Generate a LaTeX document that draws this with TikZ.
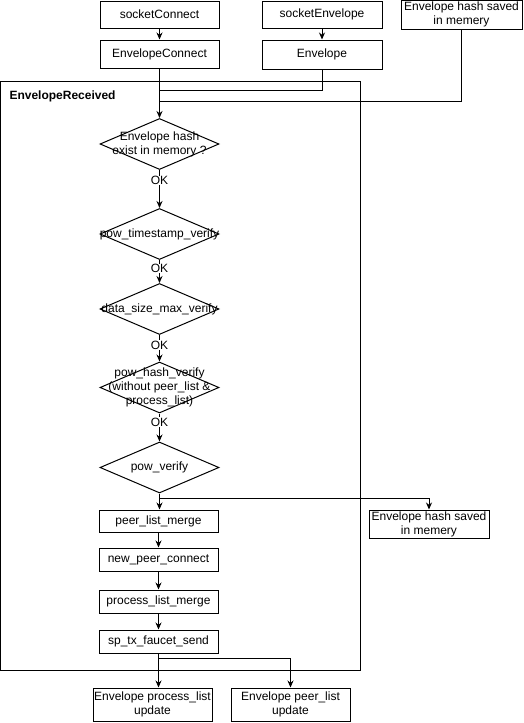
\documentclass[tikz,border=0pt]{standalone}
\usepackage{fontspec}
\setmainfont{Liberation Sans}
\usetikzlibrary{shapes.geometric,arrows.meta}

\begin{document}
\begin{tikzpicture}[x=1pt,y=-1pt,line width=1pt,
  txt/.style={font=\fontsize{12}{14}\selectfont},
  box/.style={txt,draw,minimum width=119,minimum height=28,inner sep=1pt,align=center},
  decision/.style={draw,diamond,minimum width=119,minimum height=51,inner sep=0pt},
  ok/.style={txt,fill=white,inner sep=0.5pt},
  arr/.style={-{Stealth[length=7pt,width=6pt]}}]
\useasboundingbox (0,0) rectangle (523,723);

% container
\node[draw,minimum width=360,minimum height=589,inner sep=0pt] (recv) at (180.5,375.5) {};
\node[txt,font=\fontsize{12}{14}\selectfont\bfseries,anchor=west,inner sep=0pt] (recvt) at (9,96) {EnvelopeReceived};

% top boxes
\node[box,minimum height=27] (sconn) at (159.5,14.5) {socketConnect};
\node[box,minimum width=120,minimum height=27] (senv) at (322,14.5) {socketEnvelope};
\node[box,minimum width=121,minimum height=29,inner sep=0pt] (hash1) at (461.5,14.5) {Envelope hash saved\\in memery};
\node[box] (econn) at (159.5,54) {EnvelopeConnect};
\node[box,minimum width=120,minimum height=29] (env) at (322,54.5) {Envelope};

% decisions
\node[decision,label={[txt,align=center]center:Envelope hash\\exist in memory ?}] (d1) at (159.5,144) {};
\node[decision,label={[txt]center:pow\_timestamp\_verify}] (d2) at (159.5,234) {};
\node[decision,label={[txt]center:data\_size\_max\_verify}] (d3) at (159.5,309) {};
\node[decision,label={[txt,align=center]center:pow\_hash\_verify\\(without peer\_list \&\\process\_list)}] (d4) at (159.5,387.5) {};
\node[decision,label={[txt]center:pow\_verify}] (d5) at (159.5,467.5) {};

% lower chain
\node[box,minimum height=22] (merge) at (158.5,521) {peer\_list\_merge};
\node[box,minimum height=23] (npc) at (158.5,559.5) {new\_peer\_connect};
\node[box,minimum height=23] (plm) at (158.5,601.5) {process\_list\_merge};
\node[box,minimum height=23] (send) at (158.5,641.5) {sp\_tx\_faucet\_send};
\node[box,minimum width=120,inner sep=0pt] (hash2) at (429,524) {Envelope hash saved\\in memery};
\node[box,minimum height=33,inner sep=0pt] (outa) at (152.5,704.5) {Envelope process\_list\\update};
\node[box,minimum height=33,inner sep=0pt] (outb) at (290.5,704.5) {Envelope peer\_list\\update};

% connectors
\coordinate (j1) at (159.5,90);
\coordinate (j2) at (159.5,101);
\draw[arr] (sconn) -- (econn);
\draw[arr] (senv) -- (env);
\draw[arr] (econn) -- (d1.north);
\draw (env.south) |- (j1);
\draw (hash1.south) |- (j2);

\draw[arr] (d1.south) -- node[ok,pos=0.27] {OK} (d2.north);
\draw[arr] (d2.south) -- node[ok,pos=0.38] {OK} (d3.north);
\draw[arr] (d3.south) -- node[ok,pos=0.38] {OK} (d4.north);
\draw[arr] (d4.south) -- node[ok,pos=0.3] {OK} (d5.north);

\draw[arr] (d5.south) -- (d5.south |- merge.north);
\draw[arr] (d5.south) -- ++(0,5) -| (hash2.north);
\draw[arr] (merge) -- (npc);
\draw[arr] (npc) -- (plm);
\draw[arr] (plm) -- (send);
\draw[arr] (send.south) -- (send.south |- outa.north);
\draw[arr] (send.south) -- ++(0,5) -| (outb.north);
\end{tikzpicture}
\end{document}
